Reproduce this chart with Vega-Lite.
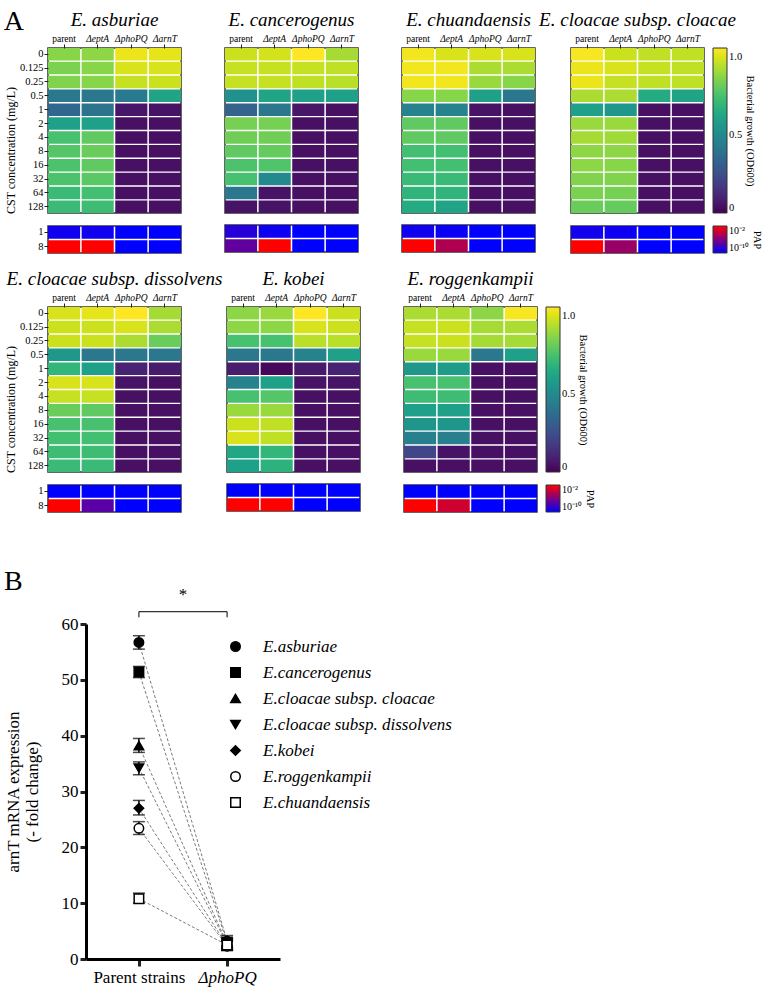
{
"$schema":"https://vega.github.io/schema/vega-lite/v6.json",
"background":"white",
"padding":{"left":3,"top":8,"right":3,"bottom":3},
"title":{"text":"A","anchor":"start","frame":"bounds","fontSize":28,"fontStyle":"normal","font":"Liberation Serif","offset":-26},
"datasets":{
"heat":[
{"s":"asb","c":"0","g":"parent","v":0.87},{"s":"asb","c":"0","g":"ΔeptA","v":0.88},{"s":"asb","c":"0","g":"ΔphoPQ","v":1.03},{"s":"asb","c":"0","g":"ΔarnT","v":1.02},
{"s":"asb","c":"0.125","g":"parent","v":0.85},{"s":"asb","c":"0.125","g":"ΔeptA","v":0.87},{"s":"asb","c":"0.125","g":"ΔphoPQ","v":1.0},{"s":"asb","c":"0.125","g":"ΔarnT","v":1.0},
{"s":"asb","c":"0.25","g":"parent","v":0.86},{"s":"asb","c":"0.25","g":"ΔeptA","v":0.87},{"s":"asb","c":"0.25","g":"ΔphoPQ","v":0.97},{"s":"asb","c":"0.25","g":"ΔarnT","v":0.98},
{"s":"asb","c":"0.5","g":"parent","v":0.42},{"s":"asb","c":"0.5","g":"ΔeptA","v":0.42},{"s":"asb","c":"0.5","g":"ΔphoPQ","v":0.43},{"s":"asb","c":"0.5","g":"ΔarnT","v":0.62},
{"s":"asb","c":"1","g":"parent","v":0.35},{"s":"asb","c":"1","g":"ΔeptA","v":0.4},{"s":"asb","c":"1","g":"ΔphoPQ","v":0.06},{"s":"asb","c":"1","g":"ΔarnT","v":0.05},
{"s":"asb","c":"2","g":"parent","v":0.6},{"s":"asb","c":"2","g":"ΔeptA","v":0.6},{"s":"asb","c":"2","g":"ΔphoPQ","v":0.04},{"s":"asb","c":"2","g":"ΔarnT","v":0.04},
{"s":"asb","c":"4","g":"parent","v":0.75},{"s":"asb","c":"4","g":"ΔeptA","v":0.8},{"s":"asb","c":"4","g":"ΔphoPQ","v":0.04},{"s":"asb","c":"4","g":"ΔarnT","v":0.04},
{"s":"asb","c":"8","g":"parent","v":0.78},{"s":"asb","c":"8","g":"ΔeptA","v":0.82},{"s":"asb","c":"8","g":"ΔphoPQ","v":0.04},{"s":"asb","c":"8","g":"ΔarnT","v":0.04},
{"s":"asb","c":"16","g":"parent","v":0.76},{"s":"asb","c":"16","g":"ΔeptA","v":0.8},{"s":"asb","c":"16","g":"ΔphoPQ","v":0.04},{"s":"asb","c":"16","g":"ΔarnT","v":0.04},
{"s":"asb","c":"32","g":"parent","v":0.76},{"s":"asb","c":"32","g":"ΔeptA","v":0.79},{"s":"asb","c":"32","g":"ΔphoPQ","v":0.04},{"s":"asb","c":"32","g":"ΔarnT","v":0.04},
{"s":"asb","c":"64","g":"parent","v":0.72},{"s":"asb","c":"64","g":"ΔeptA","v":0.74},{"s":"asb","c":"64","g":"ΔphoPQ","v":0.04},{"s":"asb","c":"64","g":"ΔarnT","v":0.04},
{"s":"asb","c":"128","g":"parent","v":0.72},{"s":"asb","c":"128","g":"ΔeptA","v":0.73},{"s":"asb","c":"128","g":"ΔphoPQ","v":0.04},{"s":"asb","c":"128","g":"ΔarnT","v":0.04},

{"s":"can","c":"0","g":"parent","v":0.98},{"s":"can","c":"0","g":"ΔeptA","v":0.99},{"s":"can","c":"0","g":"ΔphoPQ","v":1.06},{"s":"can","c":"0","g":"ΔarnT","v":0.92},
{"s":"can","c":"0.125","g":"parent","v":0.97},{"s":"can","c":"0.125","g":"ΔeptA","v":0.97},{"s":"can","c":"0.125","g":"ΔphoPQ","v":0.97},{"s":"can","c":"0.125","g":"ΔarnT","v":0.96},
{"s":"can","c":"0.25","g":"parent","v":0.97},{"s":"can","c":"0.25","g":"ΔeptA","v":0.97},{"s":"can","c":"0.25","g":"ΔphoPQ","v":0.96},{"s":"can","c":"0.25","g":"ΔarnT","v":0.95},
{"s":"can","c":"0.5","g":"parent","v":0.53},{"s":"can","c":"0.5","g":"ΔeptA","v":0.62},{"s":"can","c":"0.5","g":"ΔphoPQ","v":0.6},{"s":"can","c":"0.5","g":"ΔarnT","v":0.6},
{"s":"can","c":"1","g":"parent","v":0.33},{"s":"can","c":"1","g":"ΔeptA","v":0.42},{"s":"can","c":"1","g":"ΔphoPQ","v":0.06},{"s":"can","c":"1","g":"ΔarnT","v":0.04},
{"s":"can","c":"2","g":"parent","v":0.84},{"s":"can","c":"2","g":"ΔeptA","v":0.84},{"s":"can","c":"2","g":"ΔphoPQ","v":0.04},{"s":"can","c":"2","g":"ΔarnT","v":0.04},
{"s":"can","c":"4","g":"parent","v":0.83},{"s":"can","c":"4","g":"ΔeptA","v":0.83},{"s":"can","c":"4","g":"ΔphoPQ","v":0.04},{"s":"can","c":"4","g":"ΔarnT","v":0.04},
{"s":"can","c":"8","g":"parent","v":0.8},{"s":"can","c":"8","g":"ΔeptA","v":0.81},{"s":"can","c":"8","g":"ΔphoPQ","v":0.04},{"s":"can","c":"8","g":"ΔarnT","v":0.04},
{"s":"can","c":"16","g":"parent","v":0.76},{"s":"can","c":"16","g":"ΔeptA","v":0.77},{"s":"can","c":"16","g":"ΔphoPQ","v":0.04},{"s":"can","c":"16","g":"ΔarnT","v":0.04},
{"s":"can","c":"32","g":"parent","v":0.75},{"s":"can","c":"32","g":"ΔeptA","v":0.5},{"s":"can","c":"32","g":"ΔphoPQ","v":0.04},{"s":"can","c":"32","g":"ΔarnT","v":0.04},
{"s":"can","c":"64","g":"parent","v":0.42},{"s":"can","c":"64","g":"ΔeptA","v":0.05},{"s":"can","c":"64","g":"ΔphoPQ","v":0.04},{"s":"can","c":"64","g":"ΔarnT","v":0.04},
{"s":"can","c":"128","g":"parent","v":0.05},{"s":"can","c":"128","g":"ΔeptA","v":0.05},{"s":"can","c":"128","g":"ΔphoPQ","v":0.04},{"s":"can","c":"128","g":"ΔarnT","v":0.04},

{"s":"chu","c":"0","g":"parent","v":1.04},{"s":"chu","c":"0","g":"ΔeptA","v":1.0},{"s":"chu","c":"0","g":"ΔphoPQ","v":1.0},{"s":"chu","c":"0","g":"ΔarnT","v":1.0},
{"s":"chu","c":"0.125","g":"parent","v":1.04},{"s":"chu","c":"0.125","g":"ΔeptA","v":1.04},{"s":"chu","c":"0.125","g":"ΔphoPQ","v":0.93},{"s":"chu","c":"0.125","g":"ΔarnT","v":0.93},
{"s":"chu","c":"0.25","g":"parent","v":1.04},{"s":"chu","c":"0.25","g":"ΔeptA","v":1.04},{"s":"chu","c":"0.25","g":"ΔphoPQ","v":0.9},{"s":"chu","c":"0.25","g":"ΔarnT","v":0.87},
{"s":"chu","c":"0.5","g":"parent","v":0.87},{"s":"chu","c":"0.5","g":"ΔeptA","v":0.87},{"s":"chu","c":"0.5","g":"ΔphoPQ","v":0.6},{"s":"chu","c":"0.5","g":"ΔarnT","v":0.42},
{"s":"chu","c":"1","g":"parent","v":0.47},{"s":"chu","c":"1","g":"ΔeptA","v":0.47},{"s":"chu","c":"1","g":"ΔphoPQ","v":0.05},{"s":"chu","c":"1","g":"ΔarnT","v":0.04},
{"s":"chu","c":"2","g":"parent","v":0.8},{"s":"chu","c":"2","g":"ΔeptA","v":0.8},{"s":"chu","c":"2","g":"ΔphoPQ","v":0.04},{"s":"chu","c":"2","g":"ΔarnT","v":0.04},
{"s":"chu","c":"4","g":"parent","v":0.8},{"s":"chu","c":"4","g":"ΔeptA","v":0.8},{"s":"chu","c":"4","g":"ΔphoPQ","v":0.04},{"s":"chu","c":"4","g":"ΔarnT","v":0.04},
{"s":"chu","c":"8","g":"parent","v":0.74},{"s":"chu","c":"8","g":"ΔeptA","v":0.74},{"s":"chu","c":"8","g":"ΔphoPQ","v":0.04},{"s":"chu","c":"8","g":"ΔarnT","v":0.04},
{"s":"chu","c":"16","g":"parent","v":0.74},{"s":"chu","c":"16","g":"ΔeptA","v":0.74},{"s":"chu","c":"16","g":"ΔphoPQ","v":0.04},{"s":"chu","c":"16","g":"ΔarnT","v":0.04},
{"s":"chu","c":"32","g":"parent","v":0.72},{"s":"chu","c":"32","g":"ΔeptA","v":0.72},{"s":"chu","c":"32","g":"ΔphoPQ","v":0.04},{"s":"chu","c":"32","g":"ΔarnT","v":0.04},
{"s":"chu","c":"64","g":"parent","v":0.69},{"s":"chu","c":"64","g":"ΔeptA","v":0.69},{"s":"chu","c":"64","g":"ΔphoPQ","v":0.04},{"s":"chu","c":"64","g":"ΔarnT","v":0.04},
{"s":"chu","c":"128","g":"parent","v":0.65},{"s":"chu","c":"128","g":"ΔeptA","v":0.62},{"s":"chu","c":"128","g":"ΔphoPQ","v":0.04},{"s":"chu","c":"128","g":"ΔarnT","v":0.04},

{"s":"clo","c":"0","g":"parent","v":1.05},{"s":"clo","c":"0","g":"ΔeptA","v":0.98},{"s":"clo","c":"0","g":"ΔphoPQ","v":0.96},{"s":"clo","c":"0","g":"ΔarnT","v":0.96},
{"s":"clo","c":"0.125","g":"parent","v":1.03},{"s":"clo","c":"0.125","g":"ΔeptA","v":1.0},{"s":"clo","c":"0.125","g":"ΔphoPQ","v":0.97},{"s":"clo","c":"0.125","g":"ΔarnT","v":0.96},
{"s":"clo","c":"0.25","g":"parent","v":1.03},{"s":"clo","c":"0.25","g":"ΔeptA","v":0.97},{"s":"clo","c":"0.25","g":"ΔphoPQ","v":0.96},{"s":"clo","c":"0.25","g":"ΔarnT","v":0.96},
{"s":"clo","c":"0.5","g":"parent","v":0.93},{"s":"clo","c":"0.5","g":"ΔeptA","v":0.93},{"s":"clo","c":"0.5","g":"ΔphoPQ","v":0.65},{"s":"clo","c":"0.5","g":"ΔarnT","v":0.62},
{"s":"clo","c":"1","g":"parent","v":0.6},{"s":"clo","c":"1","g":"ΔeptA","v":0.56},{"s":"clo","c":"1","g":"ΔphoPQ","v":0.04},{"s":"clo","c":"1","g":"ΔarnT","v":0.04},
{"s":"clo","c":"2","g":"parent","v":0.9},{"s":"clo","c":"2","g":"ΔeptA","v":0.9},{"s":"clo","c":"2","g":"ΔphoPQ","v":0.04},{"s":"clo","c":"2","g":"ΔarnT","v":0.04},
{"s":"clo","c":"4","g":"parent","v":0.92},{"s":"clo","c":"4","g":"ΔeptA","v":0.91},{"s":"clo","c":"4","g":"ΔphoPQ","v":0.04},{"s":"clo","c":"4","g":"ΔarnT","v":0.04},
{"s":"clo","c":"8","g":"parent","v":0.88},{"s":"clo","c":"8","g":"ΔeptA","v":0.88},{"s":"clo","c":"8","g":"ΔphoPQ","v":0.04},{"s":"clo","c":"8","g":"ΔarnT","v":0.04},
{"s":"clo","c":"16","g":"parent","v":0.88},{"s":"clo","c":"16","g":"ΔeptA","v":0.87},{"s":"clo","c":"16","g":"ΔphoPQ","v":0.04},{"s":"clo","c":"16","g":"ΔarnT","v":0.04},
{"s":"clo","c":"32","g":"parent","v":0.86},{"s":"clo","c":"32","g":"ΔeptA","v":0.86},{"s":"clo","c":"32","g":"ΔphoPQ","v":0.04},{"s":"clo","c":"32","g":"ΔarnT","v":0.04},
{"s":"clo","c":"64","g":"parent","v":0.85},{"s":"clo","c":"64","g":"ΔeptA","v":0.84},{"s":"clo","c":"64","g":"ΔphoPQ","v":0.04},{"s":"clo","c":"64","g":"ΔarnT","v":0.04},
{"s":"clo","c":"128","g":"parent","v":0.82},{"s":"clo","c":"128","g":"ΔeptA","v":0.81},{"s":"clo","c":"128","g":"ΔphoPQ","v":0.04},{"s":"clo","c":"128","g":"ΔarnT","v":0.04},

{"s":"dis","c":"0","g":"parent","v":1.0},{"s":"dis","c":"0","g":"ΔeptA","v":1.02},{"s":"dis","c":"0","g":"ΔphoPQ","v":1.06},{"s":"dis","c":"0","g":"ΔarnT","v":0.92},
{"s":"dis","c":"0.125","g":"parent","v":0.98},{"s":"dis","c":"0.125","g":"ΔeptA","v":0.98},{"s":"dis","c":"0.125","g":"ΔphoPQ","v":1.0},{"s":"dis","c":"0.125","g":"ΔarnT","v":0.93},
{"s":"dis","c":"0.25","g":"parent","v":0.98},{"s":"dis","c":"0.25","g":"ΔeptA","v":0.98},{"s":"dis","c":"0.25","g":"ΔphoPQ","v":0.93},{"s":"dis","c":"0.25","g":"ΔarnT","v":0.82},
{"s":"dis","c":"0.5","g":"parent","v":0.56},{"s":"dis","c":"0.5","g":"ΔeptA","v":0.42},{"s":"dis","c":"0.5","g":"ΔphoPQ","v":0.42},{"s":"dis","c":"0.5","g":"ΔarnT","v":0.42},
{"s":"dis","c":"1","g":"parent","v":0.7},{"s":"dis","c":"1","g":"ΔeptA","v":0.6},{"s":"dis","c":"1","g":"ΔphoPQ","v":0.1},{"s":"dis","c":"1","g":"ΔarnT","v":0.07},
{"s":"dis","c":"2","g":"parent","v":1.0},{"s":"dis","c":"2","g":"ΔeptA","v":1.0},{"s":"dis","c":"2","g":"ΔphoPQ","v":0.05},{"s":"dis","c":"2","g":"ΔarnT","v":0.04},
{"s":"dis","c":"4","g":"parent","v":0.97},{"s":"dis","c":"4","g":"ΔeptA","v":0.97},{"s":"dis","c":"4","g":"ΔphoPQ","v":0.04},{"s":"dis","c":"4","g":"ΔarnT","v":0.04},
{"s":"dis","c":"8","g":"parent","v":0.82},{"s":"dis","c":"8","g":"ΔeptA","v":0.8},{"s":"dis","c":"8","g":"ΔphoPQ","v":0.04},{"s":"dis","c":"8","g":"ΔarnT","v":0.04},
{"s":"dis","c":"16","g":"parent","v":0.75},{"s":"dis","c":"16","g":"ΔeptA","v":0.75},{"s":"dis","c":"16","g":"ΔphoPQ","v":0.04},{"s":"dis","c":"16","g":"ΔarnT","v":0.04},
{"s":"dis","c":"32","g":"parent","v":0.74},{"s":"dis","c":"32","g":"ΔeptA","v":0.74},{"s":"dis","c":"32","g":"ΔphoPQ","v":0.04},{"s":"dis","c":"32","g":"ΔarnT","v":0.04},
{"s":"dis","c":"64","g":"parent","v":0.73},{"s":"dis","c":"64","g":"ΔeptA","v":0.73},{"s":"dis","c":"64","g":"ΔphoPQ","v":0.04},{"s":"dis","c":"64","g":"ΔarnT","v":0.04},
{"s":"dis","c":"128","g":"parent","v":0.72},{"s":"dis","c":"128","g":"ΔeptA","v":0.72},{"s":"dis","c":"128","g":"ΔphoPQ","v":0.04},{"s":"dis","c":"128","g":"ΔarnT","v":0.04},

{"s":"kob","c":"0","g":"parent","v":0.88},{"s":"kob","c":"0","g":"ΔeptA","v":0.9},{"s":"kob","c":"0","g":"ΔphoPQ","v":1.06},{"s":"kob","c":"0","g":"ΔarnT","v":0.98},
{"s":"kob","c":"0.125","g":"parent","v":0.88},{"s":"kob","c":"0.125","g":"ΔeptA","v":0.88},{"s":"kob","c":"0.125","g":"ΔphoPQ","v":1.0},{"s":"kob","c":"0.125","g":"ΔarnT","v":0.98},
{"s":"kob","c":"0.25","g":"parent","v":0.75},{"s":"kob","c":"0.25","g":"ΔeptA","v":0.75},{"s":"kob","c":"0.25","g":"ΔphoPQ","v":0.95},{"s":"kob","c":"0.25","g":"ΔarnT","v":0.95},
{"s":"kob","c":"0.5","g":"parent","v":0.42},{"s":"kob","c":"0.5","g":"ΔeptA","v":0.42},{"s":"kob","c":"0.5","g":"ΔphoPQ","v":0.47},{"s":"kob","c":"0.5","g":"ΔarnT","v":0.6},
{"s":"kob","c":"1","g":"parent","v":0.08},{"s":"kob","c":"1","g":"ΔeptA","v":0.02},{"s":"kob","c":"1","g":"ΔphoPQ","v":0.07},{"s":"kob","c":"1","g":"ΔarnT","v":0.1},
{"s":"kob","c":"2","g":"parent","v":0.47},{"s":"kob","c":"2","g":"ΔeptA","v":0.6},{"s":"kob","c":"2","g":"ΔphoPQ","v":0.05},{"s":"kob","c":"2","g":"ΔarnT","v":0.05},
{"s":"kob","c":"4","g":"parent","v":0.75},{"s":"kob","c":"4","g":"ΔeptA","v":0.78},{"s":"kob","c":"4","g":"ΔphoPQ","v":0.04},{"s":"kob","c":"4","g":"ΔarnT","v":0.04},
{"s":"kob","c":"8","g":"parent","v":0.9},{"s":"kob","c":"8","g":"ΔeptA","v":0.9},{"s":"kob","c":"8","g":"ΔphoPQ","v":0.04},{"s":"kob","c":"8","g":"ΔarnT","v":0.04},
{"s":"kob","c":"16","g":"parent","v":0.98},{"s":"kob","c":"16","g":"ΔeptA","v":0.96},{"s":"kob","c":"16","g":"ΔphoPQ","v":0.04},{"s":"kob","c":"16","g":"ΔarnT","v":0.04},
{"s":"kob","c":"32","g":"parent","v":1.0},{"s":"kob","c":"32","g":"ΔeptA","v":0.96},{"s":"kob","c":"32","g":"ΔphoPQ","v":0.04},{"s":"kob","c":"32","g":"ΔarnT","v":0.04},
{"s":"kob","c":"64","g":"parent","v":0.63},{"s":"kob","c":"64","g":"ΔeptA","v":0.7},{"s":"kob","c":"64","g":"ΔphoPQ","v":0.04},{"s":"kob","c":"64","g":"ΔarnT","v":0.04},
{"s":"kob","c":"128","g":"parent","v":0.6},{"s":"kob","c":"128","g":"ΔeptA","v":0.68},{"s":"kob","c":"128","g":"ΔphoPQ","v":0.04},{"s":"kob","c":"128","g":"ΔarnT","v":0.04},

{"s":"rog","c":"0","g":"parent","v":0.93},{"s":"rog","c":"0","g":"ΔeptA","v":0.93},{"s":"rog","c":"0","g":"ΔphoPQ","v":0.88},{"s":"rog","c":"0","g":"ΔarnT","v":1.05},
{"s":"rog","c":"0.125","g":"parent","v":0.97},{"s":"rog","c":"0.125","g":"ΔeptA","v":0.98},{"s":"rog","c":"0.125","g":"ΔphoPQ","v":0.92},{"s":"rog","c":"0.125","g":"ΔarnT","v":0.93},
{"s":"rog","c":"0.25","g":"parent","v":0.97},{"s":"rog","c":"0.25","g":"ΔeptA","v":0.98},{"s":"rog","c":"0.25","g":"ΔphoPQ","v":0.92},{"s":"rog","c":"0.25","g":"ΔarnT","v":0.92},
{"s":"rog","c":"0.5","g":"parent","v":0.9},{"s":"rog","c":"0.5","g":"ΔeptA","v":0.9},{"s":"rog","c":"0.5","g":"ΔphoPQ","v":0.42},{"s":"rog","c":"0.5","g":"ΔarnT","v":0.6},
{"s":"rog","c":"1","g":"parent","v":0.56},{"s":"rog","c":"1","g":"ΔeptA","v":0.58},{"s":"rog","c":"1","g":"ΔphoPQ","v":0.04},{"s":"rog","c":"1","g":"ΔarnT","v":0.04},
{"s":"rog","c":"2","g":"parent","v":0.75},{"s":"rog","c":"2","g":"ΔeptA","v":0.75},{"s":"rog","c":"2","g":"ΔphoPQ","v":0.04},{"s":"rog","c":"2","g":"ΔarnT","v":0.04},
{"s":"rog","c":"4","g":"parent","v":0.73},{"s":"rog","c":"4","g":"ΔeptA","v":0.73},{"s":"rog","c":"4","g":"ΔphoPQ","v":0.04},{"s":"rog","c":"4","g":"ΔarnT","v":0.04},
{"s":"rog","c":"8","g":"parent","v":0.6},{"s":"rog","c":"8","g":"ΔeptA","v":0.6},{"s":"rog","c":"8","g":"ΔphoPQ","v":0.04},{"s":"rog","c":"8","g":"ΔarnT","v":0.04},
{"s":"rog","c":"16","g":"parent","v":0.55},{"s":"rog","c":"16","g":"ΔeptA","v":0.55},{"s":"rog","c":"16","g":"ΔphoPQ","v":0.04},{"s":"rog","c":"16","g":"ΔarnT","v":0.04},
{"s":"rog","c":"32","g":"parent","v":0.45},{"s":"rog","c":"32","g":"ΔeptA","v":0.45},{"s":"rog","c":"32","g":"ΔphoPQ","v":0.04},{"s":"rog","c":"32","g":"ΔarnT","v":0.04},
{"s":"rog","c":"64","g":"parent","v":0.22},{"s":"rog","c":"64","g":"ΔeptA","v":0.05},{"s":"rog","c":"64","g":"ΔphoPQ","v":0.04},{"s":"rog","c":"64","g":"ΔarnT","v":0.04},
{"s":"rog","c":"128","g":"parent","v":0.04},{"s":"rog","c":"128","g":"ΔeptA","v":0.04},{"s":"rog","c":"128","g":"ΔphoPQ","v":0.04},{"s":"rog","c":"128","g":"ΔarnT","v":0.04}
],
"pap":[
{"s":"asb","c":"1","g":"parent","p":-9.5},{"s":"asb","c":"1","g":"ΔeptA","p":-9.5},{"s":"asb","c":"1","g":"ΔphoPQ","p":-10},{"s":"asb","c":"1","g":"ΔarnT","p":-10},
{"s":"asb","c":"8","g":"parent","p":-2},{"s":"asb","c":"8","g":"ΔeptA","p":-2},{"s":"asb","c":"8","g":"ΔphoPQ","p":-10},{"s":"asb","c":"8","g":"ΔarnT","p":-10},
{"s":"can","c":"1","g":"parent","p":-8.8},{"s":"can","c":"1","g":"ΔeptA","p":-9.6},{"s":"can","c":"1","g":"ΔphoPQ","p":-10},{"s":"can","c":"1","g":"ΔarnT","p":-10},
{"s":"can","c":"8","g":"parent","p":-7},{"s":"can","c":"8","g":"ΔeptA","p":-2},{"s":"can","c":"8","g":"ΔphoPQ","p":-10},{"s":"can","c":"8","g":"ΔarnT","p":-10},
{"s":"chu","c":"1","g":"parent","p":-9.5},{"s":"chu","c":"1","g":"ΔeptA","p":-9.7},{"s":"chu","c":"1","g":"ΔphoPQ","p":-10},{"s":"chu","c":"1","g":"ΔarnT","p":-10},
{"s":"chu","c":"8","g":"parent","p":-2},{"s":"chu","c":"8","g":"ΔeptA","p":-4.5},{"s":"chu","c":"8","g":"ΔphoPQ","p":-10},{"s":"chu","c":"8","g":"ΔarnT","p":-10},
{"s":"clo","c":"1","g":"parent","p":-9.4},{"s":"clo","c":"1","g":"ΔeptA","p":-9.6},{"s":"clo","c":"1","g":"ΔphoPQ","p":-10},{"s":"clo","c":"1","g":"ΔarnT","p":-10},
{"s":"clo","c":"8","g":"parent","p":-2},{"s":"clo","c":"8","g":"ΔeptA","p":-5.2},{"s":"clo","c":"8","g":"ΔphoPQ","p":-10},{"s":"clo","c":"8","g":"ΔarnT","p":-10},
{"s":"dis","c":"1","g":"parent","p":-10},{"s":"dis","c":"1","g":"ΔeptA","p":-10},{"s":"dis","c":"1","g":"ΔphoPQ","p":-10},{"s":"dis","c":"1","g":"ΔarnT","p":-10},
{"s":"dis","c":"8","g":"parent","p":-2},{"s":"dis","c":"8","g":"ΔeptA","p":-7.2},{"s":"dis","c":"8","g":"ΔphoPQ","p":-10},{"s":"dis","c":"8","g":"ΔarnT","p":-10},
{"s":"kob","c":"1","g":"parent","p":-10},{"s":"kob","c":"1","g":"ΔeptA","p":-10},{"s":"kob","c":"1","g":"ΔphoPQ","p":-10},{"s":"kob","c":"1","g":"ΔarnT","p":-10},
{"s":"kob","c":"8","g":"parent","p":-2},{"s":"kob","c":"8","g":"ΔeptA","p":-2},{"s":"kob","c":"8","g":"ΔphoPQ","p":-10},{"s":"kob","c":"8","g":"ΔarnT","p":-10},
{"s":"rog","c":"1","g":"parent","p":-10},{"s":"rog","c":"1","g":"ΔeptA","p":-10},{"s":"rog","c":"1","g":"ΔphoPQ","p":-10},{"s":"rog","c":"1","g":"ΔarnT","p":-10},
{"s":"rog","c":"8","g":"parent","p":-2},{"s":"rog","c":"8","g":"ΔeptA","p":-3.5},{"s":"rog","c":"8","g":"ΔphoPQ","p":-10},{"s":"rog","c":"8","g":"ΔarnT","p":-10}
],
"expr":[
{"sp":"E.asburiae","x":1,"v":56.7,"lo":55.5,"hi":57.9},{"sp":"E.asburiae","x":2,"v":3.2,"lo":2.2,"hi":4.2},
{"sp":"E.cancerogenus","x":1,"v":51.4,"lo":50.4,"hi":52.4},{"sp":"E.cancerogenus","x":2,"v":2.9,"lo":2.0,"hi":3.9},
{"sp":"E.cloacae subsp. cloacae","x":1,"v":38.2,"lo":37.0,"hi":39.5},{"sp":"E.cloacae subsp. cloacae","x":2,"v":2.7,"lo":1.8,"hi":3.7},
{"sp":"E.cloacae subsp. dissolvens","x":1,"v":34.2,"lo":33.0,"hi":35.3},{"sp":"E.cloacae subsp. dissolvens","x":2,"v":2.6,"lo":1.7,"hi":3.6},
{"sp":"E.kobei","x":1,"v":27.0,"lo":25.8,"hi":28.4},{"sp":"E.kobei","x":2,"v":2.4,"lo":1.6,"hi":3.3},
{"sp":"E.roggenkampii","x":1,"v":23.4,"lo":22.3,"hi":24.6},{"sp":"E.roggenkampii","x":2,"v":2.3,"lo":1.5,"hi":3.2},
{"sp":"E.chuandaensis","x":1,"v":10.8,"lo":10.0,"hi":11.8},{"sp":"E.chuandaensis","x":2,"v":2.5,"lo":1.6,"hi":3.5}
],
"bracket":[{"x":1,"x2":2,"y":62.2,"ylo":61.2,"t":"*","tx":1.5,"ty":63.6}],
"blank":[{"k":0}]
},
"concat":[
{"concat":[
 {"hconcat":[
  {"hconcat":[
   {"vconcat":[
    {"data":{"name":"heat"},"transform":[{"filter":"datum.s === 'asb'"}],"title":"E. asburiae","width":133,"height":165,"mark":"rect",
     "encoding":{"x":{"field":"g","type":"nominal","sort":["parent","ΔeptA","ΔphoPQ","ΔarnT"],"scale":{"paddingInner":0.045,"paddingOuter":0},"axis":{"orient":"top","title":null,"labelAngle":0,"labelFont":"Liberation Serif","labelFontSize":9.5,"tickSize":4,"domain":false,"labelPadding":1,"labelFontStyle":{"condition":{"test":"datum.value === 'parent'","value":"normal"},"value":"italic"}}},
      "y":{"field":"c","type":"nominal","sort":["0","0.125","0.25","0.5","1","2","4","8","16","32","64","128"],"scale":{"paddingInner":0.1,"paddingOuter":0},"axis":{"title":"CST concentration (mg/L)","titleFont":"Liberation Serif","labelFont":"Liberation Serif","titleFontSize":12,"titleY":102,"titlePadding":2,"labelFontSize":10.5,"tickSize":4,"domain":false,"labelPadding":1}},
      "color":{"field":"v","type":"quantitative","scale":{"scheme":"viridis","domain":[0,1.06]},"legend":null}}},
    {"data":{"name":"pap"},"transform":[{"filter":"datum.s === 'asb'"}],"width":133,"height":27,"mark":"rect",
     "encoding":{"x":{"field":"g","type":"nominal","sort":["parent","ΔeptA","ΔphoPQ","ΔarnT"],"scale":{"paddingInner":0.045,"paddingOuter":0},"axis":null},
      "y":{"field":"c","type":"nominal","sort":["1","8"],"scale":{"paddingInner":0.1,"paddingOuter":0},"axis":{"title":null,"labelFont":"Liberation Serif","labelFontSize":10.5,"tickSize":4,"domain":false,"labelPadding":1}},
      "color":{"field":"p","type":"quantitative","scale":{"domain":[-10,-2],"range":["#0000ff","#ff0000"],"interpolate":"rgb"},"legend":null}}}
   ],"spacing":10,"resolve":{"scale":{"color":"independent"},"legend":{"color":"independent"}}},
   {"vconcat":[
    {"data":{"name":"heat"},"transform":[{"filter":"datum.s === 'can'"}],"title":"E. cancerogenus","width":133,"height":165,"mark":"rect",
     "encoding":{"x":{"field":"g","type":"nominal","sort":["parent","ΔeptA","ΔphoPQ","ΔarnT"],"scale":{"paddingInner":0.045,"paddingOuter":0},"axis":{"orient":"top","title":null,"labelAngle":0,"labelFont":"Liberation Serif","labelFontSize":9.5,"tickSize":4,"domain":false,"labelPadding":1,"labelFontStyle":{"condition":{"test":"datum.value === 'parent'","value":"normal"},"value":"italic"}}},
      "y":{"field":"c","type":"nominal","sort":["0","0.125","0.25","0.5","1","2","4","8","16","32","64","128"],"scale":{"paddingInner":0.1,"paddingOuter":0},"axis":null},
      "color":{"field":"v","type":"quantitative","scale":{"scheme":"viridis","domain":[0,1.06]},"legend":null}}},
    {"data":{"name":"pap"},"transform":[{"filter":"datum.s === 'can'"}],"width":133,"height":27,"mark":"rect",
     "encoding":{"x":{"field":"g","type":"nominal","sort":["parent","ΔeptA","ΔphoPQ","ΔarnT"],"scale":{"paddingInner":0.045,"paddingOuter":0},"axis":null},
      "y":{"field":"c","type":"nominal","sort":["1","8"],"scale":{"paddingInner":0.1,"paddingOuter":0},"axis":null},
      "color":{"field":"p","type":"quantitative","scale":{"domain":[-10,-2],"range":["#0000ff","#ff0000"],"interpolate":"rgb"},"legend":null}}}
   ],"spacing":10,"resolve":{"scale":{"color":"independent"},"legend":{"color":"independent"}}},
   {"vconcat":[
    {"data":{"name":"heat"},"transform":[{"filter":"datum.s === 'chu'"}],"title":"E. chuandaensis","width":133,"height":165,"mark":"rect",
     "encoding":{"x":{"field":"g","type":"nominal","sort":["parent","ΔeptA","ΔphoPQ","ΔarnT"],"scale":{"paddingInner":0.045,"paddingOuter":0},"axis":{"orient":"top","title":null,"labelAngle":0,"labelFont":"Liberation Serif","labelFontSize":9.5,"tickSize":4,"domain":false,"labelPadding":1,"labelFontStyle":{"condition":{"test":"datum.value === 'parent'","value":"normal"},"value":"italic"}}},
      "y":{"field":"c","type":"nominal","sort":["0","0.125","0.25","0.5","1","2","4","8","16","32","64","128"],"scale":{"paddingInner":0.1,"paddingOuter":0},"axis":null},
      "color":{"field":"v","type":"quantitative","scale":{"scheme":"viridis","domain":[0,1.06]},"legend":null}}},
    {"data":{"name":"pap"},"transform":[{"filter":"datum.s === 'chu'"}],"width":133,"height":27,"mark":"rect",
     "encoding":{"x":{"field":"g","type":"nominal","sort":["parent","ΔeptA","ΔphoPQ","ΔarnT"],"scale":{"paddingInner":0.045,"paddingOuter":0},"axis":null},
      "y":{"field":"c","type":"nominal","sort":["1","8"],"scale":{"paddingInner":0.1,"paddingOuter":0},"axis":null},
      "color":{"field":"p","type":"quantitative","scale":{"domain":[-10,-2],"range":["#0000ff","#ff0000"],"interpolate":"rgb"},"legend":null}}}
   ],"spacing":10,"resolve":{"scale":{"color":"independent"},"legend":{"color":"independent"}}}
  ],"spacing":42,"resolve":{"scale":{"color":"independent"},"legend":{"color":"independent"}}},
  {"vconcat":[
    {"data":{"name":"heat"},"transform":[{"filter":"datum.s === 'clo'"}],"title":"E. cloacae subsp. cloacae","width":133,"height":165,"mark":"rect",
     "encoding":{"x":{"field":"g","type":"nominal","sort":["parent","ΔeptA","ΔphoPQ","ΔarnT"],"scale":{"paddingInner":0.045,"paddingOuter":0},"axis":{"orient":"top","title":null,"labelAngle":0,"labelFont":"Liberation Serif","labelFontSize":9.5,"tickSize":4,"domain":false,"labelPadding":1,"labelFontStyle":{"condition":{"test":"datum.value === 'parent'","value":"normal"},"value":"italic"}}},
      "y":{"field":"c","type":"nominal","sort":["0","0.125","0.25","0.5","1","2","4","8","16","32","64","128"],"scale":{"paddingInner":0.1,"paddingOuter":0},"axis":null},
      "color":{"field":"v","type":"quantitative","scale":{"scheme":"viridis","domain":[0,1.06]},"legend":{"title":"Bacterial growth (OD600)","titleOrient":"right","titleAngle":90,"titleAnchor":"middle","titleFont":"Liberation Serif","labelFont":"Liberation Serif","titleFontSize":10.5,"titlePadding":3,"values":[0,0.5,1],"labelExpr":"datum.value === 0 ? '0' : format(datum.value, '.1f')","gradientLength":165,"gradientThickness":14,"labelFontSize":10.5,"offset":9,"gradientStrokeColor":"#333","gradientStrokeWidth":1,"labelOverlap":false}}}},
    {"data":{"name":"pap"},"transform":[{"filter":"datum.s === 'clo'"}],"width":133,"height":27,"mark":"rect",
     "encoding":{"x":{"field":"g","type":"nominal","sort":["parent","ΔeptA","ΔphoPQ","ΔarnT"],"scale":{"paddingInner":0.045,"paddingOuter":0},"axis":null},
      "y":{"field":"c","type":"nominal","sort":["1","8"],"scale":{"paddingInner":0.1,"paddingOuter":0},"axis":null},
      "color":{"field":"p","type":"quantitative","scale":{"domain":[-10,-2],"range":["#0000ff","#ff0000"],"interpolate":"rgb"},"legend":{"title":"PAP","titleOrient":"right","titleAngle":90,"titleAnchor":"middle","titleFont":"Liberation Serif","labelFont":"Liberation Serif","titleFontSize":10.5,"titlePadding":3,"values":[-10,-2],"labelExpr":"datum.value === -2 ? '10⁻²' : '10⁻¹⁰'","gradientLength":27,"gradientThickness":14,"labelFontSize":10,"offset":9,"gradientStrokeColor":"#333","gradientStrokeWidth":1,"labelOverlap":false}}}}
  ],"spacing":10,"resolve":{"scale":{"color":"independent"},"legend":{"color":"independent"}}}
 ],"spacing":2,"resolve":{"scale":{"color":"independent"},"legend":{"color":"independent"}}},
 {"hconcat":[
  {"vconcat":[
    {"data":{"name":"heat"},"transform":[{"filter":"datum.s === 'dis'"}],"title":"E. cloacae subsp. dissolvens","width":133,"height":165,"mark":"rect",
     "encoding":{"x":{"field":"g","type":"nominal","sort":["parent","ΔeptA","ΔphoPQ","ΔarnT"],"scale":{"paddingInner":0.045,"paddingOuter":0},"axis":{"orient":"top","title":null,"labelAngle":0,"labelFont":"Liberation Serif","labelFontSize":9.5,"tickSize":4,"domain":false,"labelPadding":1,"labelFontStyle":{"condition":{"test":"datum.value === 'parent'","value":"normal"},"value":"italic"}}},
      "y":{"field":"c","type":"nominal","sort":["0","0.125","0.25","0.5","1","2","4","8","16","32","64","128"],"scale":{"paddingInner":0.1,"paddingOuter":0},"axis":{"title":"CST concentration (mg/L)","titleFont":"Liberation Serif","labelFont":"Liberation Serif","titleFontSize":12,"titleY":102,"titlePadding":2,"labelFontSize":10.5,"tickSize":4,"domain":false,"labelPadding":1}},
      "color":{"field":"v","type":"quantitative","scale":{"scheme":"viridis","domain":[0,1.06]},"legend":null}}},
    {"data":{"name":"pap"},"transform":[{"filter":"datum.s === 'dis'"}],"width":133,"height":27,"mark":"rect",
     "encoding":{"x":{"field":"g","type":"nominal","sort":["parent","ΔeptA","ΔphoPQ","ΔarnT"],"scale":{"paddingInner":0.045,"paddingOuter":0},"axis":null},
      "y":{"field":"c","type":"nominal","sort":["1","8"],"scale":{"paddingInner":0.1,"paddingOuter":0},"axis":{"title":null,"labelFont":"Liberation Serif","labelFontSize":10.5,"tickSize":4,"domain":false,"labelPadding":1}},
      "color":{"field":"p","type":"quantitative","scale":{"domain":[-10,-2],"range":["#0000ff","#ff0000"],"interpolate":"rgb"},"legend":null}}}
  ],"spacing":10,"resolve":{"scale":{"color":"independent"},"legend":{"color":"independent"}}},
  {"hconcat":[
   {"vconcat":[
    {"data":{"name":"heat"},"transform":[{"filter":"datum.s === 'kob'"}],"title":"E. kobei","width":133,"height":165,"mark":"rect",
     "encoding":{"x":{"field":"g","type":"nominal","sort":["parent","ΔeptA","ΔphoPQ","ΔarnT"],"scale":{"paddingInner":0.045,"paddingOuter":0},"axis":{"orient":"top","title":null,"labelAngle":0,"labelFont":"Liberation Serif","labelFontSize":9.5,"tickSize":4,"domain":false,"labelPadding":1,"labelFontStyle":{"condition":{"test":"datum.value === 'parent'","value":"normal"},"value":"italic"}}},
      "y":{"field":"c","type":"nominal","sort":["0","0.125","0.25","0.5","1","2","4","8","16","32","64","128"],"scale":{"paddingInner":0.1,"paddingOuter":0},"axis":null},
      "color":{"field":"v","type":"quantitative","scale":{"scheme":"viridis","domain":[0,1.06]},"legend":null}}},
    {"data":{"name":"pap"},"transform":[{"filter":"datum.s === 'kob'"}],"width":133,"height":27,"mark":"rect",
     "encoding":{"x":{"field":"g","type":"nominal","sort":["parent","ΔeptA","ΔphoPQ","ΔarnT"],"scale":{"paddingInner":0.045,"paddingOuter":0},"axis":null},
      "y":{"field":"c","type":"nominal","sort":["1","8"],"scale":{"paddingInner":0.1,"paddingOuter":0},"axis":null},
      "color":{"field":"p","type":"quantitative","scale":{"domain":[-10,-2],"range":["#0000ff","#ff0000"],"interpolate":"rgb"},"legend":null}}}
   ],"spacing":10,"resolve":{"scale":{"color":"independent"},"legend":{"color":"independent"}}},
   {"vconcat":[
    {"data":{"name":"heat"},"transform":[{"filter":"datum.s === 'rog'"}],"title":"E. roggenkampii","width":133,"height":165,"mark":"rect",
     "encoding":{"x":{"field":"g","type":"nominal","sort":["parent","ΔeptA","ΔphoPQ","ΔarnT"],"scale":{"paddingInner":0.045,"paddingOuter":0},"axis":{"orient":"top","title":null,"labelAngle":0,"labelFont":"Liberation Serif","labelFontSize":9.5,"tickSize":4,"domain":false,"labelPadding":1,"labelFontStyle":{"condition":{"test":"datum.value === 'parent'","value":"normal"},"value":"italic"}}},
      "y":{"field":"c","type":"nominal","sort":["0","0.125","0.25","0.5","1","2","4","8","16","32","64","128"],"scale":{"paddingInner":0.1,"paddingOuter":0},"axis":null},
      "color":{"field":"v","type":"quantitative","scale":{"scheme":"viridis","domain":[0,1.06]},"legend":{"title":"Bacterial growth (OD600)","titleOrient":"right","titleAngle":90,"titleAnchor":"middle","titleFont":"Liberation Serif","labelFont":"Liberation Serif","titleFontSize":10.5,"titlePadding":3,"values":[0,0.5,1],"labelExpr":"datum.value === 0 ? '0' : format(datum.value, '.1f')","gradientLength":165,"gradientThickness":14,"labelFontSize":10.5,"offset":9,"gradientStrokeColor":"#333","gradientStrokeWidth":1,"labelOverlap":false}}}},
    {"data":{"name":"pap"},"transform":[{"filter":"datum.s === 'rog'"}],"width":133,"height":27,"mark":"rect",
     "encoding":{"x":{"field":"g","type":"nominal","sort":["parent","ΔeptA","ΔphoPQ","ΔarnT"],"scale":{"paddingInner":0.045,"paddingOuter":0},"axis":null},
      "y":{"field":"c","type":"nominal","sort":["1","8"],"scale":{"paddingInner":0.1,"paddingOuter":0},"axis":null},
      "color":{"field":"p","type":"quantitative","scale":{"domain":[-10,-2],"range":["#0000ff","#ff0000"],"interpolate":"rgb"},"legend":{"title":"PAP","titleOrient":"right","titleAngle":90,"titleAnchor":"middle","titleFont":"Liberation Serif","labelFont":"Liberation Serif","titleFontSize":10.5,"titlePadding":3,"values":[-10,-2],"labelExpr":"datum.value === -2 ? '10⁻²' : '10⁻¹⁰'","gradientLength":27,"gradientThickness":14,"labelFontSize":10,"offset":9,"gradientStrokeColor":"#333","gradientStrokeWidth":1,"labelOverlap":false}}}}
   ],"spacing":10,"resolve":{"scale":{"color":"independent"},"legend":{"color":"independent"}}}
  ],"spacing":42,"resolve":{"scale":{"color":"independent"},"legend":{"color":"independent"}}}
 ],"spacing":2,"resolve":{"scale":{"color":"independent"},"legend":{"color":"independent"}}}
],"columns":1,"spacing":14,"align":"none","resolve":{"scale":{"color":"independent"},"legend":{"color":"independent"}}},
{"hconcat":[
 {"data":{"name":"blank"},"width":1,"height":1,"view":{"stroke":null},"mark":{"type":"point","size":0,"opacity":0},"encoding":{}},
 {"title":{"text":"B","anchor":"start","frame":"bounds","fontSize":28,"fontStyle":"normal","font":"Liberation Serif","offset":-10},
 "width":194,"height":335,
 "view":{"stroke":null},
 "layer":[
  {"data":{"name":"expr"},"mark":{"type":"line","color":"#7a7a7a","strokeDash":[3,2],"strokeWidth":1},
   "encoding":{"x":{"field":"x","type":"quantitative","scale":{"domain":[0.5,2.5]},
     "axis":{"values":[1,2],"labelExpr":"datum.value === 1 ? 'Parent strains' : 'ΔphoPQ'","labelFont":"Liberation Serif","labelFontStyle":{"condition":{"test":"datum.value === 2","value":"italic"},"value":"normal"},"grid":false,"title":null,"domainWidth":3,"tickWidth":3,"tickSize":7,"labelFontSize":17,"labelPadding":3,"labelOverlap":false,"labelFlush":false}},
    "y":{"field":"v","type":"quantitative","scale":{"domain":[0,60]},
     "axis":{"values":[0,10,20,30,40,50,60],"grid":false,"title":["arnT mRNA expression","(- fold change)"],"titleFont":"Liberation Serif","labelFont":"Liberation Serif","titleFontSize":17,"labelFontSize":17,"domainWidth":3,"tickWidth":3,"tickSize":6,"titlePadding":20}},
    "detail":{"field":"sp"}}},
  {"data":{"name":"expr"},"mark":{"type":"rule","color":"black","strokeWidth":1.5},
   "encoding":{"x":{"field":"x","type":"quantitative"},"y":{"field":"lo","type":"quantitative"},"y2":{"field":"hi"}}},
  {"data":{"name":"expr"},"mark":{"type":"tick","orient":"horizontal","color":"black","size":12,"thickness":1.5},
   "encoding":{"x":{"field":"x","type":"quantitative"},"y":{"field":"lo","type":"quantitative"}}},
  {"data":{"name":"expr"},"mark":{"type":"tick","orient":"horizontal","color":"black","size":12,"thickness":1.5},
   "encoding":{"x":{"field":"x","type":"quantitative"},"y":{"field":"hi","type":"quantitative"}}},
  {"data":{"name":"expr"},"mark":{"type":"point","filled":true,"size":90,"opacity":1,"strokeWidth":1.5},
   "encoding":{"x":{"field":"x","type":"quantitative"},"y":{"field":"v","type":"quantitative"},
    "shape":{"field":"sp","type":"nominal","scale":{"domain":["E.asburiae","E.cancerogenus","E.cloacae subsp. cloacae","E.cloacae subsp. dissolvens","E.kobei","E.roggenkampii","E.chuandaensis"],"range":["circle","square","triangle-up","triangle-down","diamond","circle","square"]},
     "legend":{"orient":"none","legendX":141,"legendY":14,"title":null,"labelFont":"Liberation Serif","labelFontSize":17,"labelFontStyle":"italic","labelLimit":300,"symbolStrokeWidth":1.5,"symbolSize":90,"rowPadding":8,"labelOffset":19}},
    "fill":{"field":"sp","type":"nominal","scale":{"domain":["E.asburiae","E.cancerogenus","E.cloacae subsp. cloacae","E.cloacae subsp. dissolvens","E.kobei","E.roggenkampii","E.chuandaensis"],"range":["black","black","black","black","black","white","white"]},
     "legend":{"orient":"none","legendX":141,"legendY":14,"title":null,"labelFont":"Liberation Serif","labelFontSize":17,"labelFontStyle":"italic","labelLimit":300,"symbolStrokeWidth":1.5,"symbolSize":90,"rowPadding":8,"labelOffset":19}},
    "stroke":{"field":"sp","type":"nominal","scale":{"domain":["E.asburiae","E.cancerogenus","E.cloacae subsp. cloacae","E.cloacae subsp. dissolvens","E.kobei","E.roggenkampii","E.chuandaensis"],"range":["black","black","black","black","black","black","black"]},
     "legend":{"orient":"none","legendX":141,"legendY":14,"title":null,"labelFont":"Liberation Serif","labelFontSize":17,"labelFontStyle":"italic","labelLimit":300,"symbolStrokeWidth":1.5,"symbolSize":90,"rowPadding":8,"labelOffset":19}}}},
  {"data":{"name":"bracket"},"mark":{"type":"rule","color":"black","strokeWidth":1},
   "encoding":{"x":{"field":"x","type":"quantitative"},"x2":{"field":"x2"},"y":{"field":"y","type":"quantitative"}}},
  {"data":{"name":"bracket"},"mark":{"type":"rule","color":"black","strokeWidth":1},
   "encoding":{"x":{"field":"x","type":"quantitative"},"y":{"field":"y","type":"quantitative"},"y2":{"field":"ylo"}}},
  {"data":{"name":"bracket"},"mark":{"type":"rule","color":"black","strokeWidth":1},
   "encoding":{"x":{"field":"x2","type":"quantitative"},"y":{"field":"y","type":"quantitative"},"y2":{"field":"ylo"}}},
  {"data":{"name":"bracket"},"mark":{"type":"text","fontSize":17,"font":"Liberation Serif","baseline":"bottom"},
   "encoding":{"x":{"field":"tx","type":"quantitative"},"y":{"field":"ty","type":"quantitative"},"text":{"field":"t"}}}
 ]}
],"spacing":-45,"resolve":{"scale":{"shape":"independent","fill":"independent","stroke":"independent","x":"independent","y":"independent"},"legend":{"shape":"independent","fill":"independent","stroke":"independent"}}}
],
"columns":1,
"spacing":53,
"align":"none",
"resolve":{"scale":{"color":"independent","shape":"independent","fill":"independent","stroke":"independent"},"legend":{"color":"independent","shape":"independent","fill":"independent","stroke":"independent"}},
"config":{
 "view":{"stroke":"#333","strokeWidth":1.5},
 "font":"Liberation Serif",
 "axis":{"labelFont":"Liberation Serif","titleFont":"Liberation Serif","titleFontWeight":"normal","labelColor":"black","titleColor":"black","tickColor":"#222","domainColor":"black"},
 "legend":{"labelFont":"Liberation Serif","titleFont":"Liberation Serif","titleFontWeight":"normal","labelColor":"black","titleColor":"black"},
 "title":{"font":"Liberation Serif","fontSize":19,"fontStyle":"italic","fontWeight":"normal","color":"black","offset":3,"frame":"group"}
}
}
